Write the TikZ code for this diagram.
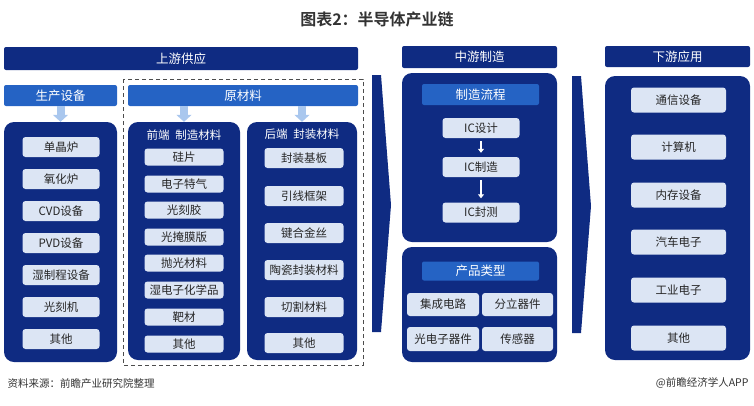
\documentclass[tikz,border=0pt]{standalone}
\usepackage{fontspec}
\setmainfont{Noto Sans CJK SC}[BoldFont={* Bold}]
\usetikzlibrary{arrows.meta,positioning}
\definecolor{navy}{HTML}{0F2B82}
\definecolor{midblue}{HTML}{2563C4}
\definecolor{itemfill}{HTML}{DCE5F4}
\definecolor{arrowblue}{HTML}{A9C7EE}
\definecolor{inkgray}{HTML}{333333}

\begin{document}
\begin{tikzpicture}[x=1pt, y=-1pt, font=\fontsize{11.5}{13}\selectfont,
  bar/.style={fill=navy, text=white, inner sep=0pt, rounded corners=2pt, font=\fontsize{12.5}{14}\selectfont},
  subbar/.style={fill=midblue, text=white, inner sep=0pt, rounded corners=2pt, font=\fontsize{12.5}{14}\selectfont},
  panel/.style={fill=navy, rounded corners=10pt, inner sep=0pt},
  item/.style={fill=itemfill, rounded corners=3pt, inner sep=0pt, text=black!85},
  fat/.style={arrowblue, line width=8pt, -{Triangle[width=15pt,length=7pt]}},
  thin/.style={white, line width=2pt, -{Triangle[width=6pt,length=4pt]}, shorten <=3pt, shorten >=4pt}]
\useasboundingbox (0,0) rectangle (754,405);
\node[font=\bfseries\fontsize{16}{18}\selectfont, text=inkgray] (title) at (377,19) {图表2：半导体产业链};
% upstream: equipment and materials
\node[bar, minimum width=354, minimum height=23] (up) at (181,58.5) {上游供应};
\draw[black!70, line width=0.9pt, dash pattern=on 4pt off 3pt] (123,79) rectangle (363,365);
\node[subbar, minimum width=113, minimum height=21] (equip) at (60.5,95.5) {生产设备};
\node[subbar, minimum width=230, minimum height=21] (mat) at (243,95.5) {原材料};
\node[panel, minimum width=113, minimum height=240] (equipbox) at (60.5,242) {};
\node[panel, minimum width=112, minimum height=238] (front) at (184,241) {};
\node[panel, minimum width=110, minimum height=238] (back) at (302,241) {};
\node[below=4pt of front.north, text=white] (fronthead) {前端\enspace 制造材料};
\node[below=4pt of back.north, text=white] (backhead) {后端\enspace 封装材料};
\draw[fat] (equip.south) -- (equipbox.north);
\draw[fat] (front.north |- mat.south) -- (front.north);
\draw[fat] (back.north |- mat.south) -- (back.north);
\foreach \n/\y/\t in {1/147/单晶炉, 2/179/氧化炉, 3/211/CVD设备, 4/243/PVD设备, 5/275/湿制程设备, 6/307/光刻机, 7/339/其他} {
  \node[item, minimum width=77, minimum height=20] (eq\n) at (61,\y) {\t};
}
\foreach \n/\y/\t in {1/157/硅片, 2/184/电子特气, 3/210/光刻胶, 4/237/光掩膜版, 5/263/抛光材料, 6/290/湿电子化学品, 7/317/靶材, 8/344/其他} {
  \node[item, minimum width=79, minimum height=17] (fm\n) at (184,\y) {\t};
}
\foreach \n/\y/\t in {1/158/封装基板, 2/196/引线框架, 3/233/键合金丝, 4/270/陶瓷封装材料, 5/307/切割材料, 6/343/其他} {
  \node[item, minimum width=79, minimum height=20] (bm\n) at (304,\y) {\t};
}
% chevrons between the stages
\fill[navy] (372,75) -- (381,75) -- (391,205) -- (381,332) -- (372,332) -- cycle;
\fill[navy] (572,76) -- (581,76) -- (591,206) -- (581,333) -- (572,333) -- cycle;
% midstream
\node[bar, minimum width=155, minimum height=22] (mid) at (479.5,57) {中游制造};
\node[panel, minimum width=155, minimum height=169] (flow) at (479.5,157.5) {};
\node[subbar, minimum width=117, minimum height=21] (flowhead) at (480.5,94.5) {制造流程};
\foreach \n/\y/\t in {1/128/IC设计, 2/167/IC制造, 3/212.5/IC封测} {
  \node[item, minimum width=77, minimum height=20] (ic\n) at (481,\y) {\t};
}
\draw[thin] (ic1.south) -- (ic2.north);
\draw[thin] (ic2.south) -- (ic3.north);
\node[panel, minimum width=155, minimum height=115] (prod) at (479.5,304.5) {};
\node[subbar, minimum width=117, minimum height=19] (prodhead) at (480.5,271) {产品类型};
\node[item, minimum width=72, minimum height=23] (pd1) at (443,304.5) {集成电路};
\node[item, minimum width=71, minimum height=23] (pd2) at (517.5,304.5) {分立器件};
\node[item, minimum width=72, minimum height=24] (pd3) at (443,339) {光电子器件};
\node[item, minimum width=71, minimum height=24] (pd4) at (517.5,339) {传感器};
% downstream
\node[bar, minimum width=145, minimum height=21] (down) at (677.5,56.5) {下游应用};
\node[panel, minimum width=145, minimum height=284] (app) at (677.5,218) {};
\foreach \n/\y/\t in {1/100/通信设备, 2/147/计算机, 3/195/内存设备, 4/242/汽车电子, 5/290/工业电子, 6/338/其他} {
  \node[item, minimum width=95, minimum height=25] (ap\n) at (678.5,\y) {\t};
}
\node[anchor=west, text=inkgray, font=\fontsize{10.5}{12}\selectfont] (src) at (4,383) {资料来源：前瞻产业研究院整理};
\node[anchor=east, text=inkgray, font=\fontsize{10.5}{12}\selectfont] (brand) at (752,383) {@前瞻经济学人APP};
\end{tikzpicture}
\end{document}
